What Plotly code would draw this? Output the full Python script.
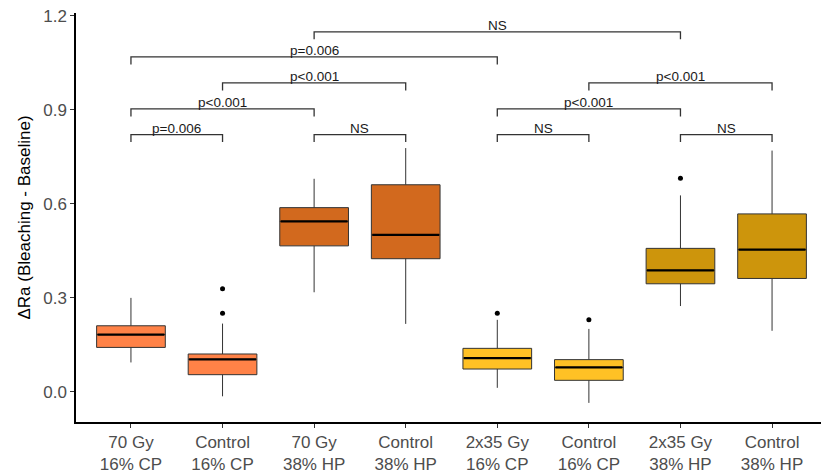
import plotly.graph_objects as go

categories = ["70 Gy<br>16% CP", "Control<br>16% CP", "70 Gy<br>38% HP", "Control<br>38% HP",
              "2x35 Gy<br>16% CP", "Control<br>16% CP", "2x35 Gy<br>38% HP", "Control<br>38% HP"]
lower_whisker = [0.094, -0.014, 0.318, 0.217, 0.013, -0.035, 0.274, 0.195]
q1 = [0.142, 0.055, 0.466, 0.425, 0.073, 0.037, 0.345, 0.362]
median = [0.183, 0.104, 0.544, 0.501, 0.108, 0.078, 0.388, 0.454]
q3 = [0.211, 0.121, 0.588, 0.661, 0.139, 0.103, 0.458, 0.568]
upper_whisker = [0.300, 0.218, 0.680, 0.778, 0.230, 0.201, 0.627, 0.770]
colors = ["#FF8247", "#FF8247", "#D2691E", "#D2691E", "#FFC125", "#FFC125", "#CD950C", "#CD950C"]

outlier_group = [1, 1, 4, 5, 6]
outlier_value = [0.329, 0.251, 0.251, 0.230, 0.682]

# brackets: (left group, right group, height, label)
bracket_left = [0, 2, 0, 1, 0, 2, 4, 4, 5, 6]
bracket_right = [1, 3, 2, 3, 4, 6, 5, 6, 7, 7]
bracket_height = [0.821, 0.821, 0.903, 0.986, 1.069, 1.149, 0.821, 0.903, 0.986, 0.821]
bracket_label = ["p=0.006", "NS", "p<0.001", "p<0.001", "p=0.006", "NS", "NS", "p<0.001", "p<0.001", "NS"]
tick_drop = 0.024

BOXW = 0.75
fig = go.Figure()
for i in range(len(categories)):
    fig.add_trace(go.Box(
        x=[i], q1=[q1[i]], median=[median[i]], q3=[q3[i]],
        lowerfence=[lower_whisker[i]], upperfence=[upper_whisker[i]],
        width=BOXW, fillcolor=colors[i], line=dict(color="#333333", width=1),
        whiskerwidth=0, boxpoints=False, showlegend=False, hoverinfo="skip"))
    fig.add_trace(go.Scatter(
        x=[i - BOXW / 2 + 0.01, i + BOXW / 2 - 0.01], y=[median[i], median[i]],
        mode="lines", line=dict(color="black", width=2.2), showlegend=False, hoverinfo="skip"))

fig.add_trace(go.Scatter(x=outlier_group, y=outlier_value, mode="markers",
                         marker=dict(color="black", size=5), showlegend=False, hoverinfo="skip"))

for a, b, h, lab in zip(bracket_left, bracket_right, bracket_height, bracket_label):
    fig.add_trace(go.Scatter(x=[a, a, b, b], y=[h - tick_drop, h, h, h - tick_drop], mode="lines",
                             line=dict(color="#333333", width=1.3), showlegend=False, hoverinfo="skip"))
    fig.add_annotation(x=(a + b) / 2, y=h, text=lab, showarrow=False, yanchor="bottom",
                       yshift=-3.5, font=dict(size=13.5, color="#1a1a1a", family="Liberation Sans, Arial"))

# the page body adds an 8px margin around the figure
fig.update_layout(
    width=821, height=466, plot_bgcolor="white", paper_bgcolor="white",
    margin=dict(l=68, r=2, t=5, b=52),
    font=dict(family="Liberation Sans, Arial", size=17, color="#4D4D4D"),
    xaxis=dict(range=[-0.6, 7.6], tickmode="array", tickvals=list(range(len(categories))),
               ticktext=categories, showgrid=False, zeroline=False, showline=True, automargin=False,
               linecolor="black", linewidth=1.5, ticks="outside", ticklen=4, tickcolor="#333333",
               ticklabeloverflow="allow",
               tickfont=dict(size=17, color="#4D4D4D")),
    yaxis=dict(range=[-0.096, 1.209], tickvals=[0.0, 0.3, 0.6, 0.9, 1.2], tickformat=".1f",
               showgrid=False, zeroline=False, showline=True, linecolor="black", linewidth=1.5,
               ticks="outside", ticklen=4, tickcolor="#333333", automargin=False,
               ticklabeloverflow="allow",
               tickfont=dict(size=17, color="#4D4D4D"),
               title=dict(text="ΔRa (Bleaching - Baseline)", font=dict(size=17, color="black"), standoff=8)),
)

fig.write_html("out.html")
